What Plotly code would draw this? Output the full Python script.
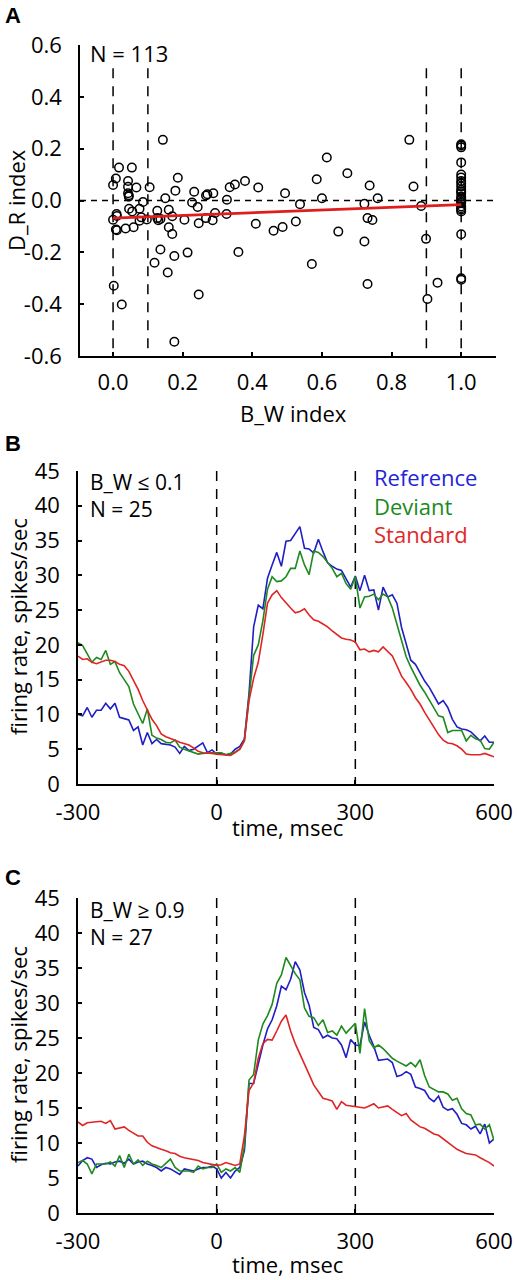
import plotly.graph_objects as go

W, H = 517, 1280
FONT = "Open Sans"

# ---------------- Panel A data ----------------
bw_index = [
    0.017, 0.054, 0.008, 0.0, 0.043, 0.043, 0.067, 0.043, 0.045, 0.105,
    0.186, 0.179, 0.15, 0.086, 0.046, 0.055, 0.076, 0.01, 0.011, 0.0,
    0.008, 0.011, 0.036, 0.059, 0.076, 0.081, 0.097, 0.127, 0.127, 0.13,
    0.136, 0.16, 0.17, 0.16, 0.17, 0.205, 0.227, 0.233, 0.243, 0.246,
    0.267, 0.267, 0.271, 0.288, 0.286, 0.293, 0.327, 0.326, 0.335, 0.35,
    0.379, 0.41, 0.417, 0.136, 0.119, 0.176, 0.157, 0.214, 0.36, 0.002,
    0.025, 0.246, 0.176,
    0.143, 0.851,
    0.614, 0.673, 0.585, 0.494, 0.537, 0.6, 0.737, 0.76, 0.722, 0.863,
    0.885, 0.461, 0.487, 0.525, 0.647, 0.731, 0.745, 0.722, 0.571, 0.731,
    0.899, 0.903, 0.932,
    1.0, 1.0, 1.0, 1.0, 1.0, 1.0, 1.0, 1.0, 1.0, 1.0,
    1.0, 1.0, 1.0, 1.0, 1.0, 1.0, 1.0,
    1.0, 1.0, 1.0, 1.0, 1.0, 1.0, 1.0, 0.045,
]
dr_index = [
    0.127, 0.127, 0.085, 0.06, 0.075, 0.053, 0.05, 0.028, 0.015, 0.051,
    0.088, 0.038, 0.009, -0.006, -0.032, -0.042, -0.032, -0.052, -0.06, -0.074,
    -0.112, -0.115, -0.108, -0.103, -0.078, -0.065, -0.073, -0.04, -0.068, -0.076,
    -0.071, -0.036, -0.061, -0.103, -0.129, -0.074, -0.008, 0.034, -0.025, -0.088,
    -0.068, 0.019, 0.024, 0.028, -0.076, -0.048, 0.003, -0.052, 0.051, 0.062,
    0.075, -0.09, 0.05, -0.189, -0.24, -0.214, -0.278, -0.201, -0.199, -0.329,
    -0.401, -0.363, -0.545,
    0.234, 0.234,
    0.166, 0.105, 0.082, 0.028, -0.014, 0.009, 0.058, 0.009, -0.013, 0.054,
    -0.021, -0.117, -0.102, -0.081, -0.12, -0.068, -0.075, -0.158, -0.245, -0.322,
    -0.148, -0.38, -0.317,
    0.217, 0.212, 0.147, 0.089, 0.066, 0.054, 0.041, 0.028, 0.015, 0.003,
    -0.010, -0.023, -0.036, -0.042, -0.13, -0.3, -0.306,
    0.205, 0.10, 0.075, 0.035, 0.008, -0.005, -0.03, 0.02,
]
fit_x = [0.0, 1.0]
fit_y = [-0.068, -0.016]
a_vlines = [0.0, 0.1, 0.9, 1.0]
a_xticks = [0.0, 0.2, 0.4, 0.6, 0.8, 1.0]
a_xticklabels = ["0.0", "0.2", "0.4", "0.6", "0.8", "1.0"]
a_yticks = [-0.6, -0.4, -0.2, 0.0, 0.2, 0.4, 0.6]
a_yticklabels = ["-0.6", "-0.4", "-0.2", "0.0", "0.2", "0.4", "0.6"]

# ---------------- Panels B & C data ----------------
time_ms = list(range(-300, 601, 10))

b_reference = [
    10.0, 9.8, 11.0, 9.6, 10.6, 10.6, 11.6, 10.8, 11.6, 9.6,
    9.4, 9.2, 7.7, 8.2, 5.6, 7.4, 5.8, 6.4, 5.8, 5.7,
    5.6, 5.3, 4.4, 5.4, 4.8, 5.0, 5.4, 5.9, 4.5, 4.9,
    4.3, 4.4, 4.2, 4.3, 5.0, 5.4, 6.5, 13.0, 22.6, 25.7,
    25.2, 29.6, 31.5, 33.3, 31.3, 34.9, 35.0, 36.0, 37.0, 33.9,
    33.8, 33.2, 35.2, 33.4, 31.8, 31.3, 30.9, 30.7, 29.4, 28.3,
    29.9, 27.8, 30.0, 27.8, 27.9, 25.0, 28.3, 26.9, 27.2, 26.0,
    22.5, 20.0, 17.8, 17.2, 16.0, 14.8, 13.9, 12.6, 11.5, 12.0,
    11.0, 9.3, 8.2, 7.9, 7.8, 7.5, 6.9, 6.2, 6.9, 6.0,
    6.0,
]
b_deviant = [
    20.3, 19.9, 18.7, 17.5, 18.2, 17.9, 19.2, 17.2, 17.6, 16.0,
    15.0, 14.0, 11.5, 10.2, 8.7, 10.8, 7.0, 6.6, 6.4, 6.0,
    5.9, 6.3, 5.3, 5.0, 4.8, 4.6, 4.3, 4.4, 4.5, 4.5,
    4.5, 4.5, 4.2, 4.4, 4.6, 5.0, 6.2, 12.5, 18.5, 20.0,
    23.5, 28.0, 29.8, 29.1, 29.2, 29.8, 31.0, 31.0, 33.5, 31.5,
    30.1, 33.5, 33.3, 32.7, 31.8, 31.0, 29.8, 30.3, 28.8, 28.0,
    29.8, 25.3, 26.9, 27.0, 27.3, 26.5, 27.3, 26.9, 25.3, 23.0,
    20.5, 18.3, 16.8, 15.5, 14.2, 13.2, 12.0, 10.9, 9.8, 9.6,
    7.4, 7.7, 7.7, 7.7, 6.2, 7.0, 6.5, 6.3, 5.1, 5.0,
    6.0,
]
b_standard = [
    18.4, 17.9, 18.0, 17.5, 17.3, 17.6, 17.8, 17.8, 17.6, 17.2,
    17.0, 16.2, 15.0, 13.6, 12.0, 10.6, 9.3, 8.4, 7.2, 6.8,
    6.6, 6.3, 6.0, 5.8, 5.6, 5.2, 4.7, 4.5, 4.5, 4.4,
    4.3, 4.2, 4.1, 4.1, 4.5, 5.0, 6.3, 12.0, 15.2, 17.5,
    21.5, 26.0, 27.2, 27.8, 26.8, 26.0, 25.3, 24.6, 24.8, 25.2,
    24.3, 23.6, 23.4, 23.0, 22.6, 22.0, 21.5, 21.0, 20.8, 20.7,
    20.4, 19.3, 19.4, 19.0, 19.2, 19.0, 19.7, 19.0, 18.4, 17.0,
    15.5, 14.6, 13.6, 12.4, 11.5, 10.3, 9.2, 8.2, 7.1, 6.3,
    5.9, 5.8, 5.5, 5.0, 4.3, 4.2, 4.2, 4.2, 4.4, 4.1,
    3.9,
]

c_reference = [
    6.7, 7.5, 7.9, 7.7, 6.5, 6.9, 7.1, 7.0, 7.3, 7.4,
    7.1, 7.7, 7.0, 7.3, 7.4, 7.0, 6.8, 6.5, 6.0, 6.5,
    6.3, 5.9, 5.5, 6.3, 6.1, 6.0, 6.3, 6.5, 6.5, 6.7,
    6.3, 5.0, 5.8, 5.0, 6.0, 6.5, 8.9, 18.5, 18.5, 21.5,
    24.0, 26.3, 27.6, 29.6, 32.4, 31.9, 33.4, 35.9, 34.7, 31.5,
    29.7, 26.5, 26.2, 25.0, 25.4, 25.0, 24.9, 24.0, 22.2, 24.8,
    24.0, 23.9, 27.3, 25.4, 23.8, 21.8, 21.9, 22.0, 21.5, 19.5,
    19.7, 20.2, 19.8, 18.0, 17.8, 17.5, 16.4, 15.9, 16.7, 15.1,
    14.7, 14.9, 14.1, 12.8, 12.6, 12.0, 12.4, 11.3, 12.7, 10.0,
    10.6,
]
c_deviant = [
    7.2, 7.5, 7.0, 5.6, 7.0, 7.0, 7.0, 7.3, 6.7, 8.2,
    6.5, 8.4, 7.0, 7.6, 6.8, 7.4, 7.0, 6.8, 6.5, 7.1,
    7.7, 6.5, 6.0, 6.0, 6.0, 5.8, 6.7, 6.3, 6.5, 6.5,
    7.0, 5.8, 6.3, 6.0, 6.5, 5.8, 9.5, 19.0, 19.8, 24.7,
    27.0, 28.2, 29.8, 32.8, 34.0, 36.5, 35.3, 34.2, 33.3, 29.3,
    28.1, 27.9, 26.8, 27.6, 25.8, 26.0, 25.4, 26.7, 25.7, 26.4,
    27.1, 22.8, 29.2, 24.6, 23.6, 24.0, 23.5, 22.8, 22.1, 21.7,
    21.4, 21.0, 21.5, 20.9, 21.9, 19.6, 18.0, 17.6, 17.3, 17.3,
    17.0, 16.1, 16.4, 14.9, 14.2, 14.0, 12.6, 12.7, 12.0, 12.6,
    10.4,
]
c_standard = [
    13.0, 12.5, 12.9, 13.0, 13.1, 13.1, 12.8, 13.2, 12.0, 12.2,
    12.3, 11.8, 11.4, 11.0, 11.0, 10.1, 9.6, 9.3, 9.1, 8.9,
    8.6, 8.5, 8.1, 7.9, 7.8, 7.7, 7.5, 7.2, 7.1, 7.0,
    6.8, 6.9, 7.2, 7.0, 6.8, 7.0, 11.0, 17.5, 18.6, 22.1,
    24.2, 24.8, 24.7, 26.0, 27.4, 28.3, 26.0, 24.2, 22.8, 21.3,
    19.8, 18.3, 17.3, 16.4, 16.2, 16.0, 14.8, 15.9, 15.4, 15.3,
    15.1, 15.0, 15.0, 15.3, 15.6, 15.0, 15.2, 15.3, 14.8, 14.3,
    13.9, 14.2, 13.3, 12.8, 12.3, 12.1, 11.7, 11.3, 11.1, 10.6,
    10.2, 9.7, 9.1, 8.8, 8.5, 8.4, 8.3, 7.9, 7.6, 7.2,
    6.7,
]

event_times = [0, 300]
rate_ticks = [0, 5, 10, 15, 20, 25, 30, 35, 40, 45]
time_ticks = [-300, 0, 300, 600]
time_ticklabels = ["-300", "0", "300", "600"]

series_names = ["Reference", "Deviant", "Standard"]
line_colors = ["#1f1fc4", "#1e8a1e", "#e02424"]
text_colors = ["#2323d8", "#1a8a1a", "#e02828"]


def fx(p):
    return p / W


def fy(p):
    return 1 - p / H


fig = go.Figure()

# ---- Panel A ----
for v in a_vlines:
    fig.add_trace(go.Scatter(x=[v, v], y=[0.51, -0.6], mode="lines",
                             line=dict(color="black", width=1.5, dash="10px,8px"),
                             xaxis="x", yaxis="y", showlegend=False, hoverinfo="skip"))
fig.add_trace(go.Scatter(x=[-0.095, 1.10], y=[0, 0], mode="lines",
                         line=dict(color="black", width=1.5, dash="6px,5px"),
                         xaxis="x", yaxis="y", showlegend=False, hoverinfo="skip"))
fig.add_trace(go.Scatter(x=bw_index, y=dr_index, mode="markers",
                         marker=dict(symbol="circle-open", size=8.5, color="black",
                                     line=dict(width=1.5, color="black")),
                         xaxis="x", yaxis="y", showlegend=False, cliponaxis=False))
fig.add_trace(go.Scatter(x=fit_x, y=fit_y, mode="lines",
                         line=dict(color="#e01c1c", width=2.6),
                         xaxis="x", yaxis="y", showlegend=False))

# ---- Panels B & C ----
panels = [
    ("x2", "y2", [b_reference, b_deviant, b_standard]),
    ("x3", "y3", [c_reference, c_deviant, c_standard]),
]
for xa, ya, series in panels:
    for t in event_times:
        fig.add_trace(go.Scatter(x=[t, t], y=[45, 0], mode="lines",
                                 line=dict(color="black", width=1.5, dash="10px,8px"),
                                 xaxis=xa, yaxis=ya, showlegend=False, hoverinfo="skip"))
    for vals, name, col in zip(series, series_names, line_colors):
        fig.add_trace(go.Scatter(x=time_ms, y=vals, mode="lines", name=name,
                                 line=dict(color=col, width=1.6),
                                 xaxis=xa, yaxis=ya, showlegend=False))

axis_common = dict(
    showline=True, linecolor="black", linewidth=1.5, mirror=False,
    ticks="inside", ticklen=4, tickwidth=1.5, tickcolor="black",
    showgrid=False, zeroline=False, automargin=False,
    tickfont=dict(family=FONT, size=22, color="black"),
)

fig.update_layout(
    template="none",
    width=W, height=H,
    margin=dict(l=0, r=0, t=0, b=0, pad=0, autoexpand=False),
    paper_bgcolor="white", plot_bgcolor="white",
    showlegend=False,
    xaxis=dict(axis_common, domain=[fx(80), fx(496)], range=[-0.095, 1.10],
               tickvals=a_xticks, ticktext=a_xticklabels, anchor="y",
               ticklabelstandoff=6),
    yaxis=dict(axis_common, domain=[fy(356), fy(45)], range=[-0.6, 0.6],
               tickvals=a_yticks, ticktext=a_yticklabels, anchor="x",
               ticklabelstandoff=12),
    xaxis2=dict(axis_common, domain=[fx(78), fx(494)], range=[-300, 600],
                tickvals=time_ticks, ticktext=time_ticklabels, anchor="y2",
                ticklabelstandoff=8),
    yaxis2=dict(axis_common, domain=[fy(784), fy(471)], range=[0, 45],
                tickvals=rate_ticks, anchor="x2", ticklabelstandoff=12),
    xaxis3=dict(axis_common, domain=[fx(78), fx(494)], range=[-300, 600],
                tickvals=time_ticks, ticktext=time_ticklabels, anchor="y3",
                ticklabelstandoff=8),
    yaxis3=dict(axis_common, domain=[fy(1213), fy(898)], range=[0, 45],
                tickvals=rate_ticks, anchor="x3", ticklabelstandoff=12),
)


def note(text, px, py, size=22, xanchor="left", color="black", angle=0,
         family=FONT, bold=False, align="left"):
    if bold:
        text = "<b>" + text + "</b>"
    fig.add_annotation(text=text, x=fx(px), y=fy(py), xref="paper", yref="paper",
                       xanchor=xanchor, yanchor="middle", showarrow=False,
                       textangle=angle, align=align,
                       font=dict(family=family, size=size, color=color))


# panel letters
note("A", 3, 15, size=22, family="Liberation Sans", bold=True)
note("B", 3, 443, size=22, family="Liberation Sans", bold=True)
note("C", 3, 877, size=22, family="Liberation Sans", bold=True)

# Panel A texts
note("N = 113", 88, 53)
note("D_R index", 16, 200, xanchor="center", angle=-90)
note("B_W index", 293, 413, xanchor="center")

# Panel B texts
note("B_W \u2264 0.1<br>N = 25", 88, 495, size=21)
legend_text = "<br>".join(
    "<span style='color:%s'>%s</span>" % (c, n) for n, c in zip(series_names, text_colors)
)
note(legend_text, 372, 506, size=22)
note("firing rate, spikes/sec", 18, 627, xanchor="center", angle=-90)
note("time, msec", 287, 827, xanchor="center")

# Panel C texts
note("B_W \u2265 0.9<br>N = 27", 88, 923, size=21)
note("firing rate, spikes/sec", 18, 1055, xanchor="center", angle=-90)
note("time, msec", 287, 1264, xanchor="center")

fig.write_html(
    "out.html",
    config={"displayModeBar": False},
    post_script="document.body.style.margin='0';document.body.style.padding='0';",
)
